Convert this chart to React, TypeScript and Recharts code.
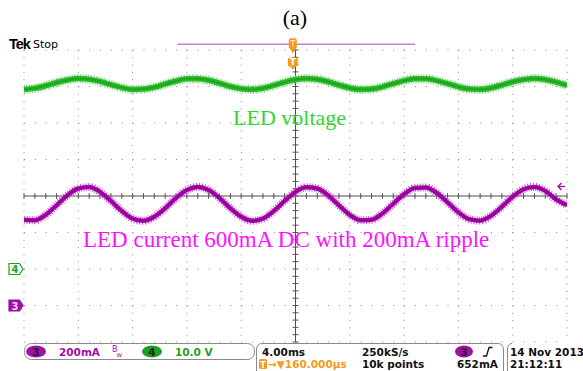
import React from 'react';
import { ComposedChart, Line, XAxis, YAxis, CartesianGrid, ReferenceLine, ReferenceDot } from 'recharts';

// time axis (ms), 4 ms/div, 10 divisions
const timeMs = [0, 0.8, 1.6, 2.4, 3.2, 4, 4.8, 5.6, 6.4, 7.2, 8, 8.8, 9.6, 10.4, 11.2, 12, 12.8, 13.6, 14.4, 15.2, 16, 16.8, 17.6, 18.4, 19.2, 20, 20.8, 21.6, 22.4, 23.2, 24, 24.8, 25.6, 26.4, 27.2, 28, 28.8, 29.6, 30.4, 31.2, 32, 32.8, 33.6, 34.4, 35.2, 36, 36.8, 37.6, 38.4, 39.2, 40];
// Ch3: LED current (mA), 200 mA/div
const currentMA = [470, 467, 497, 549, 604, 641, 649, 623, 573, 518, 476, 464, 486, 533, 589, 633, 650, 633, 589, 533, 486, 464, 476, 518, 573, 623, 648, 641, 604, 549, 497, 467, 470, 504, 557, 610, 644, 647, 617, 565, 511, 473, 465, 491, 541, 596, 637, 650, 628, 581, 550];
// Ch4: LED voltage (V), 10 V/div
const voltageV = [49.2, 49.5, 50.2, 51.1, 51.8, 52.2, 52.0, 51.4, 50.5, 49.7, 49.2, 49.3, 49.8, 50.7, 51.5, 52.1, 52.1, 51.7, 50.9, 50.0, 49.4, 49.2, 49.5, 50.3, 51.2, 51.9, 52.2, 52.0, 51.3, 50.4, 49.6, 49.2, 49.3, 49.9, 50.8, 51.6, 52.1, 52.1, 51.6, 50.8, 49.9, 49.3, 49.2, 49.6, 50.4, 51.3, 51.9, 52.2, 51.9, 51.2, 50.3];

const majorTimeTicks = [0, 4, 8, 12, 16, 20, 24, 28, 32, 36, 40];
const majorDivTicks = [-4, -3, -2, -1, 0, 1, 2, 3, 4];
const minorTimeTicks = timeMs;
const minorDivTicks = [-4, -3.8, -3.6, -3.4, -3.2, -3, -2.8, -2.6, -2.4, -2.2, -2, -1.8, -1.6, -1.4, -1.2, -1, -0.8, -0.6, -0.4, -0.2, 0, 0.2, 0.4, 0.6, 0.8, 1, 1.2, 1.4, 1.6, 1.8, 2, 2.2, 2.4, 2.6, 2.8, 3, 3.2, 3.4, 3.6, 3.8, 4];

const currentDomain = [-200, 1400];
const voltageDomain = [-20, 60];
const triggerLevelMA = 652;
const triggerTimeMs = 19.8;
const recordWindowMs = [11.3, 28.8];

const data = timeMs.map((t, i) => ({ t, i: currentMA[i], v: voltageV[i] }));

const ORANGE = '#f59a1c';
const MAG = '#a010a8';
const GRN = '#1f9f1f';

const ChMarker = (props: any) => {
  const { cx, cy, num, fill, stroke, text } = props;
  const pts = `${cx - 15},${cy - 5.5} ${cx - 4.5},${cy - 5.5} ${cx - 1},${cy} ${cx - 4.5},${cy + 5.5} ${cx - 15},${cy + 5.5}`;
  return (
    <g>
      <polygon points={pts} fill={fill} stroke={stroke} strokeWidth={1.2} />
      <text x={cx - 9} y={cy + 4} textAnchor="middle" fontFamily="DejaVu Sans" fontWeight="bold" fontSize={10} fill={text}>{num}</text>
    </g>
  );
};

const TrigLevel = (props: any) => {
  const { cx, cy } = props;
  return (
    <g stroke={MAG} strokeWidth={1.4} fill="none">
      <path d={`M ${cx - 2} ${cy} L ${cx - 9} ${cy}`} />
      <path d={`M ${cx - 5.5} ${cy - 3.5} L ${cx - 9} ${cy} L ${cx - 5.5} ${cy + 3.5}`} />
    </g>
  );
};

const TrigTop = (props: any) => {
  const { cx, cy } = props;
  return (
    <g>
      <rect x={cx - 4} y={cy - 6} width={8} height={10} rx={2} fill={ORANGE} />
      <path d={`M ${cx - 4} ${cy + 3} L ${cx + 4} ${cy + 3} L ${cx} ${cy + 9} Z`} fill={ORANGE} />
      <path d={`M ${cx - 2.5} ${cy - 3.5} L ${cx + 2.5} ${cy - 3.5} M ${cx} ${cy - 3.5} L ${cx} ${cy + 2}`} stroke="#ffe0b0" strokeWidth={1.2} />
    </g>
  );
};

const TrigPos = (props: any) => {
  const { cx, cy } = props;
  return (
    <g>
      <rect x={cx - 5} y={cy - 5} width={10} height={9} rx={2} fill={ORANGE} />
      <path d={`M ${cx - 3} ${cy + 4} L ${cx + 3} ${cy + 4} L ${cx} ${cy + 7} Z`} fill={ORANGE} />
      <text x={cx} y={cy + 3} textAnchor="middle" fontFamily="DejaVu Sans" fontWeight="bold" fontSize={9} fill="#fff">T</text>
    </g>
  );
};

const statusFont = { fontFamily: 'DejaVu Sans', fontWeight: 'bold' as const, fontSize: 10.5 };

export default function App() {
  return (
    <div style={{ position: 'absolute', left: 0, top: 0, width: 583, height: 371, background: '#fff', overflow: 'hidden' }}>
      <ComposedChart width={583} height={371} data={data} margin={{ top: 50, right: 16, bottom: 29, left: 24 }}>
        <XAxis xAxisId="t" dataKey="t" type="number" domain={[0, 40]} ticks={majorTimeTicks} allowDataOverflow hide />
        <YAxis yAxisId="div" type="number" domain={[-4, 4]} ticks={majorDivTicks} allowDataOverflow hide />
        <YAxis yAxisId="ma" type="number" domain={currentDomain} allowDataOverflow hide />
        <YAxis yAxisId="vv" type="number" domain={voltageDomain} allowDataOverflow hide />

        <CartesianGrid xAxisId="t" yAxisId="div" vertical={false} stroke="#8a8a8a" strokeDasharray="1 9.86" />
        <CartesianGrid xAxisId="t" yAxisId="div" horizontal={false} stroke="#8a8a8a" strokeDasharray="1 6.3" />

        <XAxis xAxisId="top" type="number" domain={[0, 40]} orientation="top" mirror ticks={minorTimeTicks} tick={false} tickSize={3} axisLine={{ stroke: '#777' }} tickLine={{ stroke: '#777' }} allowDataOverflow height={0} />
        <XAxis xAxisId="bottom" type="number" domain={[0, 40]} orientation="bottom" mirror ticks={minorTimeTicks} tick={false} tickSize={3} axisLine={{ stroke: '#777' }} tickLine={{ stroke: '#777' }} allowDataOverflow height={0} />
        <YAxis yAxisId="left" type="number" domain={[-4, 4]} orientation="left" mirror ticks={minorDivTicks} tick={false} tickSize={3} axisLine={{ stroke: '#777' }} tickLine={{ stroke: '#777' }} allowDataOverflow width={0} />
        <YAxis yAxisId="right" type="number" domain={[-4, 4]} orientation="right" mirror ticks={minorDivTicks} tick={false} tickSize={3} axisLine={{ stroke: '#777' }} tickLine={{ stroke: '#777' }} allowDataOverflow width={0} />

        <ReferenceLine xAxisId="t" yAxisId="div" x={20} stroke="#505050" strokeWidth={1} />
        <ReferenceLine xAxisId="t" yAxisId="div" y={0} stroke="#505050" strokeWidth={1.2} />
        {minorTimeTicks.map((t) => (
          <ReferenceLine key={'ht' + t} xAxisId="t" yAxisId="div" segment={[{ x: t, y: -0.08 }, { x: t, y: 0.08 }]} stroke="#555" />
        ))}
        {minorDivTicks.map((d) => (
          <ReferenceLine key={'vt' + d} xAxisId="t" yAxisId="div" segment={[{ x: 19.78, y: d }, { x: 20.22, y: d }]} stroke="#555" />
        ))}

        <ReferenceLine xAxisId="t" yAxisId="div" ifOverflow="visible" segment={[{ x: recordWindowMs[0], y: 4.16 }, { x: recordWindowMs[1], y: 4.16 }]} stroke="#d27ad8" strokeWidth={1.5} />

        <Line xAxisId="t" yAxisId="vv" dataKey="v" type="monotone" stroke="#6fdc6f" strokeWidth={9} strokeDasharray="1 1.6" dot={false} isAnimationActive={false} />
        <Line xAxisId="t" yAxisId="vv" dataKey="v" type="monotone" stroke="#2cbb2c" strokeWidth={5.5} dot={false} isAnimationActive={false} />
        <Line xAxisId="t" yAxisId="vv" dataKey="v" type="monotone" stroke="#1ea51e" strokeWidth={2} dot={false} isAnimationActive={false} />
        <Line xAxisId="t" yAxisId="ma" dataKey="i" type="monotone" stroke="#c85ccd" strokeWidth={8} strokeDasharray="1 1.6" dot={false} isAnimationActive={false} />
        <Line xAxisId="t" yAxisId="ma" dataKey="i" type="monotone" stroke="#a808ae" strokeWidth={4.5} dot={false} isAnimationActive={false} />
        <Line xAxisId="t" yAxisId="ma" dataKey="i" type="monotone" stroke="#8e0094" strokeWidth={1.6} dot={false} isAnimationActive={false} />

        <ReferenceDot xAxisId="t" yAxisId="vv" x={0} y={0} ifOverflow="visible" shape={(p: any) => <ChMarker {...p} num="4" fill="#fff" stroke={GRN} text={GRN} />} />
        <ReferenceDot xAxisId="t" yAxisId="ma" x={0} y={0} ifOverflow="visible" shape={(p: any) => <ChMarker {...p} num="3" fill={MAG} stroke={MAG} text="#f4d8f6" />} />
        <ReferenceDot xAxisId="t" yAxisId="ma" x={40} y={triggerLevelMA} ifOverflow="visible" shape={(p: any) => <TrigLevel {...p} />} />
        <ReferenceDot xAxisId="t" yAxisId="div" x={triggerTimeMs} y={4.16} ifOverflow="visible" shape={(p: any) => <TrigTop {...p} />} />
        <ReferenceDot xAxisId="t" yAxisId="div" x={triggerTimeMs} y={3.66} ifOverflow="visible" shape={(p: any) => <TrigPos {...p} />} />
      </ComposedChart>

      <svg width={583} height={371} style={{ position: 'absolute', left: 0, top: 0, pointerEvents: 'none' }}>
        <text x={295} y={25} textAnchor="middle" fontFamily="Liberation Serif" fontSize={22} fill="#000">(a)</text>
        <text x={9} y={48.5} fontFamily="Liberation Sans" fontWeight="bold" fontSize={14.5} fill="#000" letterSpacing={-1}>Tek</text>
        <text x={33} y={48} fontFamily="DejaVu Sans" fontSize={11} fill="#000">Stop</text>

        <text x={233} y={125} fontFamily="Liberation Serif" fontSize={22} fill="#2fd82f">LED voltage</text>
        <text x={83} y={247} fontFamily="Liberation Serif" fontSize={23} fill="#ff10ff">LED current 600mA DC with 200mA ripple</text>

        {/* status box 1 */}
        <rect x={24.5} y={343.5} width={230} height={16} rx={7} fill="#fff" stroke="#8a8a8a" />
        <ellipse cx={36} cy={351.5} rx={10} ry={6} fill={MAG} />
        <text x={36} y={355.5} textAnchor="middle" {...statusFont} fill="#222">3</text>
        <text x={59} y={355.5} {...statusFont} fill={MAG}>200mA</text>
        <text x={112} y={352} fontFamily="DejaVu Sans" fontSize={8} fill={MAG}>B</text>
        <text x={116.5} y={356.5} fontFamily="DejaVu Sans" fontSize={7} fill={MAG}>w</text>
        <ellipse cx={152} cy={351.5} rx={10} ry={6} fill={GRN} />
        <text x={152} y={355.5} textAnchor="middle" {...statusFont} fill="#222">4</text>
        <text x={175} y={355.5} {...statusFont} fill={GRN}>10.0 V</text>

        {/* status box 2 */}
        <path d="M 262 343.5 L 498 343.5 Q 503.5 343.5 503.5 350 L 503.5 371 M 262 343.5 Q 256.5 343.5 256.5 350 L 256.5 371" fill="none" stroke="#8a8a8a" />
        <text x={262} y={355.5} {...statusFont} fill="#111">4.00ms</text>
        <rect x={259} y={359} width={8} height={10} rx={1.5} fill={ORANGE} />
        <text x={263} y={367.5} textAnchor="middle" fontFamily="DejaVu Sans" fontWeight="bold" fontSize={8} fill="#fff">T</text>
        <text x={268} y={367.5} {...statusFont} fill={ORANGE}>→▼160.000µs</text>
        <text x={362} y={355.5} {...statusFont} fill="#111">250kS/s</text>
        <text x={362} y={367.5} {...statusFont} fill="#111">10k points</text>
        <ellipse cx={464} cy={351.5} rx={9} ry={6} fill={MAG} />
        <text x={464} y={355.5} textAnchor="middle" {...statusFont} fill="#222">3</text>
        <path d="M 483 356 L 486.5 356 L 489 347.5 L 492.5 347.5" fill="none" stroke="#111" strokeWidth={1.3} />
        <text x={457} y={367.5} {...statusFont} fill="#111">652mA</text>

        {/* status box 3 */}
        <path d="M 512 343.5 Q 507.5 343.5 507.5 350 L 507.5 371" fill="none" stroke="#8a8a8a" />
        <text x={510} y={355.5} {...statusFont} fill="#111">14 Nov 2013</text>
        <text x={510} y={367.5} {...statusFont} fill="#111">21:12:11</text>
      </svg>
    </div>
  );
}
